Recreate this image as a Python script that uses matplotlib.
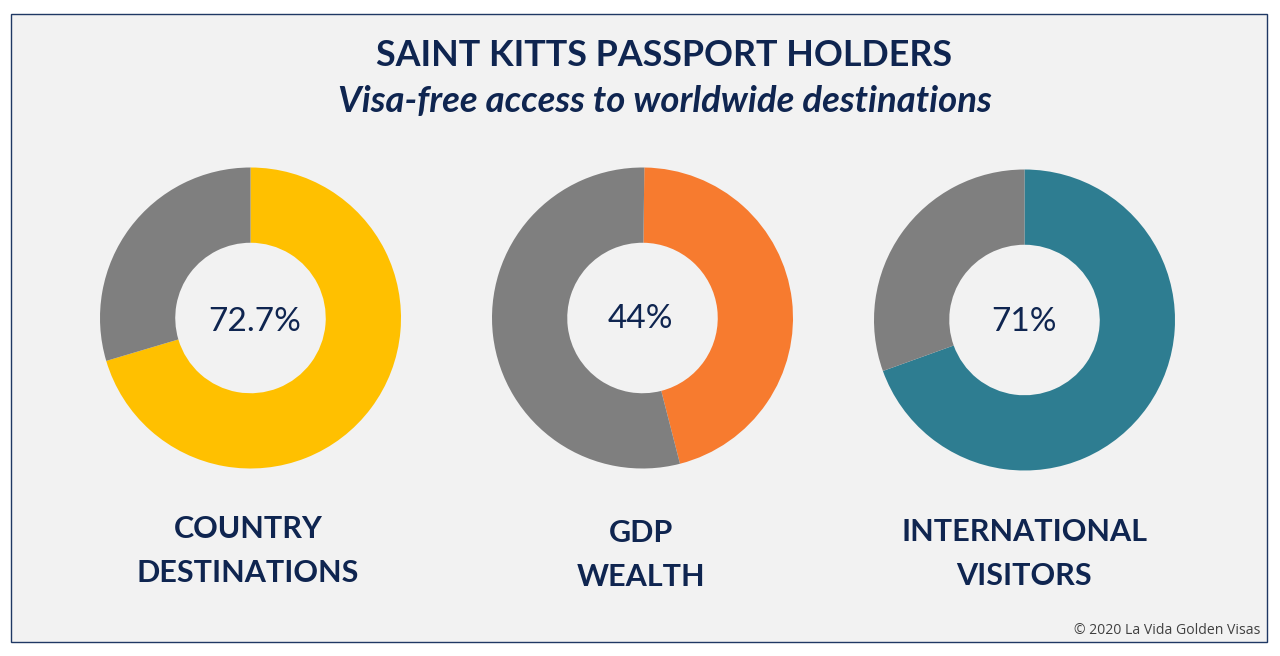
import matplotlib
matplotlib.use("Agg")
import matplotlib.pyplot as plt
from matplotlib.patches import Rectangle

plt.rcParams['font.family'] = ['Lato', 'DejaVu Sans']

W, H = 1280, 656
navy = '#0f2550'
panel_bg = '#f2f2f2'
rest_color = '#7f7f7f'

shares = [70.4, 45.8, 69.5]
labels = ['72.7%', '44%', '71%']
captions = ['COUNTRY\nDESTINATIONS', 'GDP\nWEALTH', 'INTERNATIONAL\nVISITORS']
colors = ['#ffc000', '#f77b2f', '#2e7d91']

# centre x, centre y, outer radius in pixels
donuts = [(250.5, 318, 150.5), (642.5, 318, 150.5), (1024.5, 320, 150.5)]
start_angles = [90, 89.3, 90]
caption_pos = [(248, 551), (641, 555), (1024, 554)]
label_pos = [(255, 322), (640, 319), (1024, 322)]

fig = plt.figure(figsize=(W / 100, H / 100), dpi=100, facecolor='white')
bg = fig.add_axes([0, 0, 1, 1])
bg.set_xlim(0, W)
bg.set_ylim(H, 0)
bg.axis('off')
bg.add_patch(Rectangle((11, 14), 1256, 628, facecolor=panel_bg, edgecolor='#1f3864', linewidth=1))

bg.text(664, 56, 'SAINT KITTS PASSPORT HOLDERS', fontsize=25.8, fontweight='bold',
        color=navy, ha='center', va='center')
bg.text(664.5, 102, 'Visa-free access to worldwide destinations', fontsize=26.3, fontweight='bold',
        style='italic', color=navy, ha='center', va='center')

for share, label, cap, col, d, sa, cp, lp in zip(shares, labels, captions, colors, donuts, start_angles, caption_pos, label_pos):
    cx, cy, r = d
    ax = fig.add_axes([(cx - r) / W, 1 - (cy + r) / H, 2 * r / W, 2 * r / H])
    ax.pie([share, 100 - share], colors=[col, rest_color], startangle=sa, counterclock=False,
           radius=1, wedgeprops={'width': 0.5, 'linewidth': 0})
    ax.set_xlim(-1, 1)
    ax.set_ylim(-1, 1)
    ax.set_aspect('equal')
    ax.axis('off')
    ax.patch.set_alpha(0)
    fig.text(lp[0] / W, 1 - lp[1] / H, label, fontsize=24, color=navy, ha='center', va='center', zorder=5)
    fig.text(cp[0] / W, 1 - cp[1] / H, cap, fontsize=22, fontweight='bold', color=navy,
             ha='center', va='center', linespacing=1.68)

fig.text(1260 / W, 1 - 630 / H, '© 2020 La Vida Golden Visas', fontsize=10.1, color='#404040',
         family=['Open Sans', 'DejaVu Sans'], ha='right', va='center')

fig.savefig('out.png', dpi=100)
